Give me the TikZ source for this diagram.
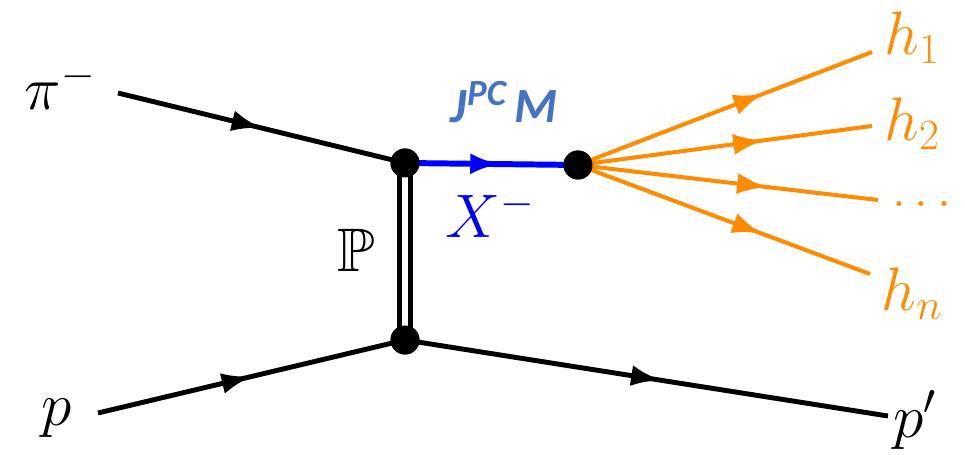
\RequirePackage{fix-cm}
\documentclass[tikz,border=0pt]{standalone}
\usepackage{amssymb}
\usepackage{bm}
\usepackage{fontspec}
\newfontfamily\jfont{Carlito}
\usetikzlibrary{arrows.meta,decorations.markings}
\definecolor{hadorange}{RGB}{255,140,0}
\definecolor{jpcblue}{RGB}{68,114,196}
\tikzset{
  midarrow/.style={postaction={decorate},decoration={markings,
     mark=at position #1 with {\arrow{Latex[length=17pt,width=12pt]}}}},
  fermion/.style={line width=2.8pt,black,midarrow=#1},
  hadron/.style={line width=2.3pt,hadorange,midarrow=#1},
  vtx/.style={circle,fill=black,minimum size=16.5pt,inner sep=0pt},
  lbl/.style={font=\fontsize{35}{42}\selectfont},
}
\begin{document}
\begin{tikzpicture}[x=0.02cm,y=-0.02cm]
\useasboundingbox (0,0) rectangle (965,455);
% vertices
\node[vtx] (A) at (405,163) {};
\node[vtx] (B) at (405,340) {};
\node[vtx] (C) at (578,165) {};
% free ends
\coordinate (pimin) at (118,93);
\coordinate (pin) at (98,413);
\coordinate (pout) at (888,416);
\coordinate (e1) at (872,52);
\coordinate (e2) at (872,126);
\coordinate (e3) at (878,200);
\coordinate (e4) at (870,274);
% pomeron
\draw[line width=2.6pt,double=white,double distance=3.4pt] (A.center) -- (B.center);
% lines
\draw[fermion=0.5] (pimin) -- (A.center);
\draw[fermion=0.5] (pin) -- (B.center);
\draw[fermion=0.53] (B.center) -- (pout);
\draw[line width=3.4pt,blue,midarrow=0.55] (A.center) -- (C.center);
\foreach \e in {e1,e2,e3,e4}{\draw[hadron=0.63] (C.center) -- (\e);}
% redraw vertices on top
\node[vtx] at (A) {};
\node[vtx] at (B) {};
\node[vtx] at (C) {};
% labels
\node[lbl] (Lpi) at (60,86) {$\pi^-$};
\node[lbl] (Lp) at (57,418) {$p$};
\node[lbl] (Lpp) at (915,420) {$p'$};
\node[lbl] (LP) at (356,250) {$\mathbb{P}$};
\node[text=jpcblue,font=\jfont\bfseries\itshape\fontsize{28}{32}\selectfont] (LJ) at (504,102)
  {J\raisebox{10pt}{\fontsize{21}{24}\selectfont PC}\,M};
\node[lbl,text=blue] (LX) at (490,214) {$X^-$};
\node[lbl,text=hadorange] (Lh1) at (912,38) {$h_1$};
\node[lbl,text=hadorange] (Lh2) at (912,124) {$h_2$};
\node[text=hadorange,font=\fontsize{29}{34}\selectfont] (Lh3) at (922,204) {$\dots$};
\node[lbl,text=hadorange] (Lh4) at (912,294) {$h_n$};
\end{tikzpicture}
\end{document}
